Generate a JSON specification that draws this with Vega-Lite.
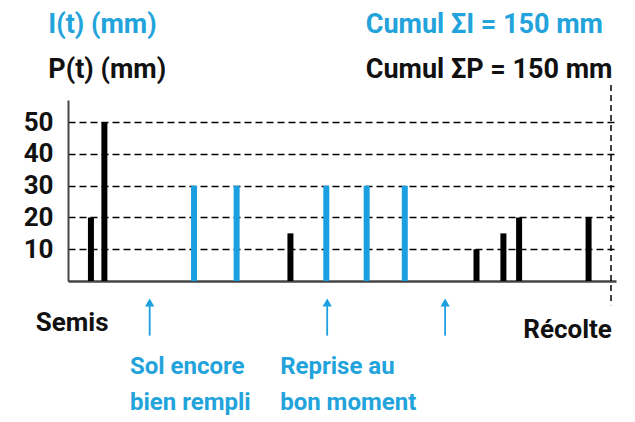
{
  "$schema": "https://vega.github.io/schema/vega-lite/v6.json",
  "autosize": {"type": "none"},
  "padding": {"left": 68, "top": 100, "right": 19, "bottom": 141},
  "width": 548,
  "height": 181,
  "background": "white",
  "config": {"view": {"stroke": null}},
  "datasets": {
    "bars": [
      {"day": 4, "mm": 20, "type": "P"},
      {"day": 7, "mm": 50, "type": "P"},
      {"day": 27, "mm": 30, "type": "I"},
      {"day": 36.5, "mm": 30, "type": "I"},
      {"day": 48.5, "mm": 15, "type": "P"},
      {"day": 56.5, "mm": 30, "type": "I"},
      {"day": 65.5, "mm": 30, "type": "I"},
      {"day": 74, "mm": 30, "type": "I"},
      {"day": 90, "mm": 10, "type": "P"},
      {"day": 96, "mm": 15, "type": "P"},
      {"day": 99.5, "mm": 20, "type": "P"},
      {"day": 115, "mm": 20, "type": "P"}
    ],
    "arrows": [
      {"day": 17.1, "top": -6.8, "bottom": -17.2},
      {"day": 56.7, "top": -6.8, "bottom": -17.2},
      {"day": 83.0, "top": -6.8, "bottom": -17.2}
    ],
    "harvest": [
      {"day": 120, "top": 61.7, "bottom": -7.6}
    ],
    "texts": [
      {"day": -5.5, "v": 78.0, "label": "I(t) (mm)", "group": "headI"},
      {"day": 65.3, "v": 78.0, "label": "Cumul ΣI = 150 mm", "group": "headI"},
      {"day": -5.5, "v": 64.0, "label": "P(t) (mm)", "group": "headP"},
      {"day": 65.3, "v": 64.0, "label": "Cumul ΣP = 150 mm", "group": "headP"},
      {"day": 12.7, "v": -29.4, "label": "Sol encore", "group": "note"},
      {"day": 12.7, "v": -40.6, "label": "bien rempli", "group": "note"},
      {"day": 46.2, "v": -29.4, "label": "Reprise au", "group": "note"},
      {"day": 46.2, "v": -40.6, "label": "bon moment", "group": "note"},
      {"day": -0.2, "v": -15.8, "label": "Semis", "group": "start"},
      {"day": 120.2, "v": -18.0, "label": "Récolte", "group": "end"}
    ]
  },
  "layer": [
    {
      "data": {"name": "bars"},
      "mark": {"type": "bar", "width": 6},
      "encoding": {
        "x": {
          "field": "day", "type": "quantitative",
          "scale": {"domain": [0, 120], "nice": false, "zero": false},
          "axis": {"domain": true, "domainColor": "#444444", "domainWidth": 2.5, "ticks": false, "labels": false, "grid": false, "title": null}
        },
        "y": {
          "field": "mm", "type": "quantitative",
          "scale": {"domain": [0, 57], "nice": false},
          "axis": {
            "values": [10, 20, 30, 40, 50], "ticks": false, "title": null,
            "labelFontSize": 26, "labelFont": "Roboto",
            "labelFontWeight": "bold", "labelColor": "#111111", "labelPadding": 15,
            "grid": true, "gridDash": [7, 4], "gridColor": "#000000", "gridWidth": 1.5,
            "domainColor": "#444444", "domainWidth": 2
          }
        },
        "color": {
          "field": "type", "type": "nominal",
          "scale": {"domain": ["I", "P"], "range": ["#1a9fe0", "#000000"]},
          "legend": null
        }
      }
    },
    {
      "data": {"name": "harvest"},
      "mark": {"type": "rule", "color": "#000000", "strokeWidth": 1.5, "strokeDash": [6, 4]},
      "encoding": {
        "x": {"field": "day", "type": "quantitative"},
        "y": {"field": "top", "type": "quantitative"},
        "y2": {"field": "bottom"}
      }
    },
    {
      "data": {"name": "arrows"},
      "mark": {"type": "rule", "color": "#1a9fe0", "strokeWidth": 1.8},
      "encoding": {
        "x": {"field": "day", "type": "quantitative"},
        "y": {"field": "top", "type": "quantitative"},
        "y2": {"field": "bottom"}
      }
    },
    {
      "data": {"name": "arrows"},
      "mark": {"type": "point", "shape": "triangle-up", "filled": true, "color": "#1a9fe0", "size": 85, "opacity": 1},
      "encoding": {
        "x": {"field": "day", "type": "quantitative"},
        "y": {"field": "top", "type": "quantitative"}
      }
    },
    {
      "data": {"name": "texts"},
      "transform": [{"filter": "datum.group === 'headI'"}],
      "mark": {"type": "text", "align": "left", "baseline": "alphabetic", "fontSize": 27, "fontWeight": "bold", "font": "Roboto", "color": "#22a3db"},
      "encoding": {
        "x": {"field": "day", "type": "quantitative"},
        "y": {"field": "v", "type": "quantitative"},
        "text": {"field": "label"}
      }
    },
    {
      "data": {"name": "texts"},
      "transform": [{"filter": "datum.group === 'headP'"}],
      "mark": {"type": "text", "align": "left", "baseline": "alphabetic", "fontSize": 27, "fontWeight": "bold", "font": "Roboto", "color": "#111111"},
      "encoding": {
        "x": {"field": "day", "type": "quantitative"},
        "y": {"field": "v", "type": "quantitative"},
        "text": {"field": "label"}
      }
    },
    {
      "data": {"name": "texts"},
      "transform": [{"filter": "datum.group === 'note'"}],
      "mark": {"type": "text", "align": "left", "baseline": "alphabetic", "fontSize": 24, "fontWeight": "bold", "font": "Roboto", "color": "#22a3db"},
      "encoding": {
        "x": {"field": "day", "type": "quantitative"},
        "y": {"field": "v", "type": "quantitative"},
        "text": {"field": "label"}
      }
    },
    {
      "data": {"name": "texts"},
      "transform": [{"filter": "datum.group === 'start'"}],
      "mark": {"type": "text", "align": "center", "baseline": "alphabetic", "fontSize": 26, "fontWeight": "bold", "font": "Roboto", "color": "#111111"},
      "encoding": {
        "x": {"field": "day", "type": "quantitative"},
        "y": {"field": "v", "type": "quantitative"},
        "text": {"field": "label"}
      }
    },
    {
      "data": {"name": "texts"},
      "transform": [{"filter": "datum.group === 'end'"}],
      "mark": {"type": "text", "align": "right", "baseline": "alphabetic", "fontSize": 26, "fontWeight": "bold", "font": "Roboto", "color": "#111111"},
      "encoding": {
        "x": {"field": "day", "type": "quantitative"},
        "y": {"field": "v", "type": "quantitative"},
        "text": {"field": "label"}
      }
    }
  ]
}
